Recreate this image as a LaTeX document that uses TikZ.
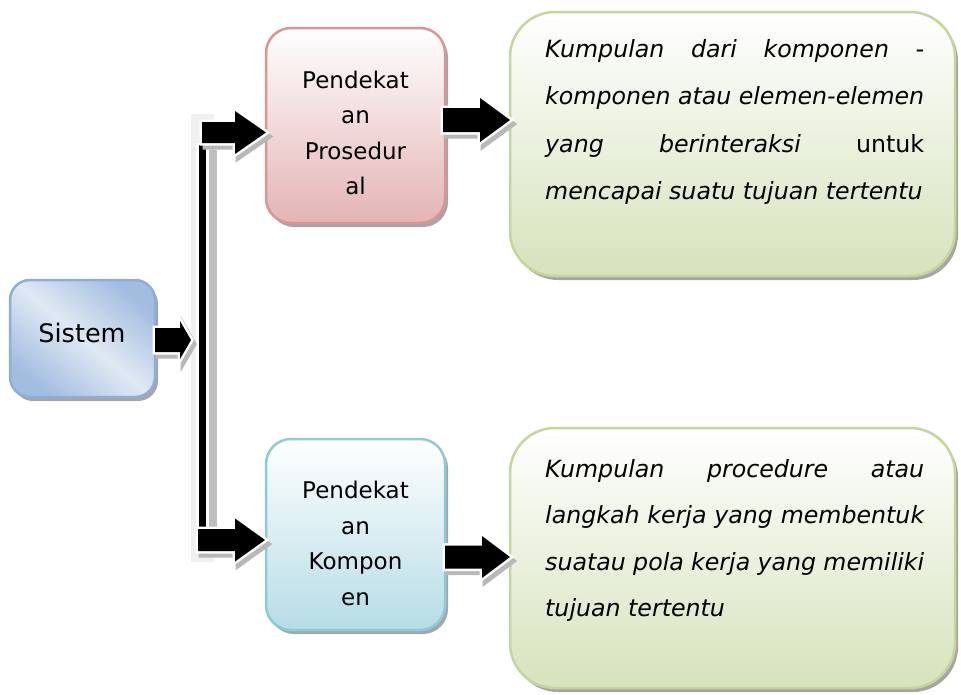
\documentclass[tikz,border=0pt]{standalone}
\usepackage{fontspec}
\setmainfont{DejaVu Sans}
\usetikzlibrary{shadows}

\definecolor{sysdark}{HTML}{A3BDE0}
\definecolor{syslight}{HTML}{E0E9F4}
\definecolor{sysline}{HTML}{8EADD8}
\definecolor{pinkbot}{HTML}{E4B4B5}
\definecolor{pinkline}{HTML}{D99694}
\definecolor{cyanbot}{HTML}{B6DCE6}
\definecolor{cyanline}{HTML}{8FCADA}
\definecolor{greenbot}{HTML}{D6E3BC}
\definecolor{greenline}{HTML}{C3D69B}

\tikzset{
  card/.style={draw, line width=2.5pt, inner sep=0pt, outer sep=0pt,
    drop shadow={shadow xshift=3pt, shadow yshift=-4pt, fill=black!50, opacity=0.7}},
  sysbox/.style={card, draw=sysline, rounded corners=20pt,
    top color=sysdark, bottom color=sysdark, middle color=syslight, shading angle=-40},
  procbox/.style={card, draw=pinkline, rounded corners=25pt,
    top color=white, bottom color=pinkbot},
  kompbox/.style={card, draw=cyanline, rounded corners=25pt,
    top color=white, bottom color=cyanbot},
  defbox/.style={card, draw=greenline, rounded corners=45pt,
    top color=white, bottom color=greenbot},
  label/.style={align=center, inner sep=0pt, font=\fontsize{23}{35.5}\selectfont},
  deftext/.style={anchor=base west, inner sep=0pt, font=\fontsize{23.7}{28}\selectfont\itshape},
  arrowshadow/.style={fill=black!28, draw=black!28, line width=5pt, shift={(3,4)}},
  arrowrim/.style={fill=white, draw=white, line width=5pt, line join=miter},
  arrowcore/.style={fill=black}
}

% block arrow: tail x, head base x, tip x, centre y, shaft half height, head half height
\newcommand\blkarrow[6]{%
  \path[arrowshadow] (#1,#4-#5) -- (#2,#4-#5) -- (#2,#4-#6) -- (#3,#4) -- (#2,#4+#6) -- (#2,#4+#5) -- (#1,#4+#5) -- cycle;
  \path[arrowrim] (#1,#4-#5) -- (#2,#4-#5) -- (#2,#4-#6) -- (#3,#4) -- (#2,#4+#6) -- (#2,#4+#5) -- (#1,#4+#5) -- cycle;
  \path[arrowcore] (#1,#4-#5) -- (#2,#4-#5) -- (#2,#4-#6) -- (#3,#4) -- (#2,#4+#6) -- (#2,#4+#5) -- (#1,#4+#5) -- cycle;
}

\begin{document}
\begin{tikzpicture}[x=1pt, y=-1pt]
  \useasboundingbox (0,0) rectangle (961,694);

  % boxes
  \node[sysbox, minimum width=145pt, minimum height=117pt] (sys) at (82.5,338.5) {};
  \node[procbox, minimum width=179pt, minimum height=195pt] (proc) at (355.5,125.5) {};
  \node[kompbox, minimum width=179pt, minimum height=191pt] (komp) at (355.5,534.5) {};
  \node[defbox, minimum width=445pt, minimum height=264pt] (defA) at (732.5,144) {};
  \node[defbox, minimum width=445pt, minimum height=260pt] (defB) at (732.5,558) {};

  % box labels
  \node[label, font=\fontsize{25.5}{30}\selectfont] (sysT) at (82,332.5) {Sistem};
  \node[label] (procT) at (355.5,133) {Pendekat\\an\\Prosedur\\al};
  \node[label] (kompT) at (355.5,543.5) {Pendekat\\an\\Kompon\\en};

  % definitions
  \node[deftext] (a1) at (545,57)    {\makebox[379pt][s]{Kumpulan dari komponen -}};
  \node[deftext] (a2) at (545,104.5) {\makebox[379pt][s]{komponen atau elemen-elemen}};
  \node[deftext] (a3) at (545,152)   {\makebox[379pt][s]{yang berinteraksi {\upshape untuk}}};
  \node[deftext] (a4) at (545,199.5) {mencapai suatu tujuan tertentu};

  \node[deftext] (b1) at (545,477)   {\makebox[379pt][s]{Kumpulan procedure atau}};
  \node[deftext] (b2) at (545,523.5) {\makebox[379pt][s]{langkah kerja yang membentuk}};
  \node[deftext] (b3) at (545,570)   {\makebox[379pt][s]{suatau pola kerja yang memiliki}};
  \node[deftext] (b4) at (545,616.5) {tujuan tertentu};

  % bracket joining the two approaches
  \fill[black!6] (191,114) rectangle (214,562);
  \fill[black!25] (209,150) rectangle (217,535);
  \fill[white] (196,143) rectangle (209,530);
  \fill[black] (199,145) rectangle (206,530);

  % block arrows
  \blkarrow{155}{180}{191}{340}{12}{19}
  \blkarrow{202}{235}{266}{132.5}{10.5}{21.5}
  \blkarrow{198}{235}{265}{540}{11}{21.5}
  \blkarrow{443}{480}{510}{120}{12}{22}
  \blkarrow{445}{482}{510}{557}{11.5}{21}
\end{tikzpicture}
\end{document}
